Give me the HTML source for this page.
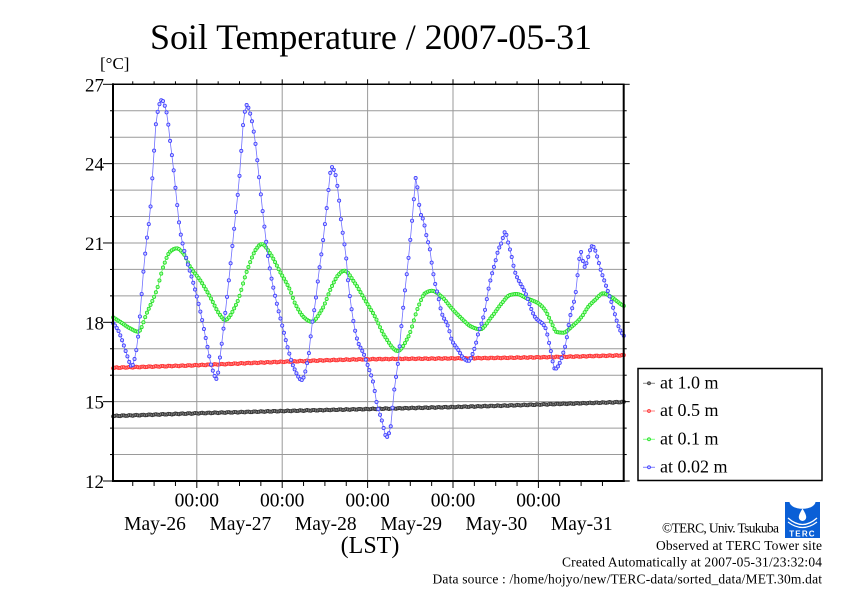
<!DOCTYPE html>
<html><head><meta charset="utf-8"><style>
html,body{margin:0;padding:0;background:#fff;}
svg{display:block;}
text{font-family:"Liberation Serif",serif;fill:#000;}
</style></head><body>
<svg id="s" width="842" height="595" viewBox="0 0 842 595" xmlns="http://www.w3.org/2000/svg">
<rect width="842" height="595" fill="#fff"/>
<g id="grid"></g>
<g id="series"></g>
<g id="axes"></g>

<text x="150" y="49" font-size="36" textLength="442">Soil Temperature / 2007-05-31</text>
<text x="100" y="69" font-size="17">[°C]</text>

<g font-size="19" text-anchor="end">
<text x="104" y="91.3">27</text>
<text x="104" y="170.7">24</text>
<text x="104" y="250">21</text>
<text x="104" y="329.4">18</text>
<text x="104" y="408.7">15</text>
<text x="104" y="488">12</text>
</g>

<g font-size="19.5" text-anchor="middle">
<text x="196.8" y="506.5">00:00</text>
<text x="282.2" y="506.5">00:00</text>
<text x="367.6" y="506.5">00:00</text>
<text x="453" y="506.5">00:00</text>
<text x="538.4" y="506.5">00:00</text>
<text x="155" y="530">May-26</text>
<text x="240.4" y="530">May-27</text>
<text x="325.8" y="530">May-28</text>
<text x="411.2" y="530">May-29</text>
<text x="496.4" y="530">May-30</text>
<text x="581.8" y="530">May-31</text>
</g>
<text x="370" y="553" font-size="24" text-anchor="middle">(LST)</text>

<!-- legend -->
<rect x="638" y="368.5" width="184" height="112" fill="#fff" stroke="#000" stroke-width="1.5"/>
<g stroke-width="1">
<line x1="643" y1="383.3" x2="655" y2="383.3" stroke="#888"/><circle cx="649" cy="383.3" r="1.5" fill="#888" stroke="#333" stroke-width="0.8"/>
<line x1="643" y1="411" x2="655" y2="411" stroke="#ff8080"/><circle cx="649" cy="411" r="1.5" fill="#ff9090" stroke="#ff3030" stroke-width="0.8"/>
<line x1="643" y1="439.3" x2="655" y2="439.3" stroke="#80ff80"/><circle cx="649" cy="439.3" r="1.5" fill="#aaffaa" stroke="#22dd22" stroke-width="0.8"/>
<line x1="643" y1="467.3" x2="655" y2="467.3" stroke="#8080ff"/><circle cx="649" cy="467.3" r="1.5" fill="#ccccff" stroke="#3c3cff" stroke-width="0.8"/>
</g>
<g font-size="18">
<text x="660" y="388.3">at 1.0 m</text>
<text x="660" y="416">at 0.5 m</text>
<text x="660" y="444.3">at 0.1 m</text>
<text x="660" y="472.3">at 0.02 m</text>
</g>

<!-- logo -->
<rect x="785" y="502" width="35" height="36" fill="#0a5fd6"/>
<path d="M789.5,502 C791,511 814,511 815.5,502 Z" fill="#fff"/>
<path d="M802.5,508.5 C799.5,513.5 798.8,515.5 798.8,517.3 A3.7,3.7 0 0 0 806.2,517.3 C806.2,515.5 805.5,513.5 802.5,508.5 Z" fill="#fff"/>
<path d="M788,518 Q802.5,531 817,518" stroke="#fff" fill="none" stroke-width="1.3"/>
<path d="M788,522 Q802.5,533 817,522" stroke="#fff" fill="none" stroke-width="1.1"/>
<text x="802.5" y="536.5" font-size="8" font-weight="bold" fill="#fff" style="fill:#fff;font-family:'Liberation Sans',sans-serif" text-anchor="middle" letter-spacing="1.2">TERC</text>

<g font-size="13.5">
<text x="662" y="532.5" textLength="117">©TERC, Univ. Tsukuba</text>
<text x="656" y="550" textLength="166">Observed at TERC Tower site</text>
<text x="562" y="566.7" textLength="260">Created Automatically at 2007-05-31/23:32:04</text>
<text x="432.5" y="583.3" textLength="389.5">Data source : /home/hojyo/new/TERC-data/sorted_data/MET.30m.dat</text>
</g>
</svg>
<script>
(function(){
var NS="http://www.w3.org/2000/svg";
function el(parent,name,attrs){var e=document.createElementNS(NS,name);for(var k in attrs)e.setAttribute(k,attrs[k]);parent.appendChild(e);return e;}
var L=113, R=623.7, T=84.3, B=481;
var X0=111.4, DAY=85.4;
function yT(t){return T+(27-t)*(B-T)/15;}
var grid=document.getElementById('grid'), axes=document.getElementById('axes'), ser=document.getElementById('series');
// grid
for(var t=13;t<=26;t++){var y=yT(t);el(grid,'line',{x1:L,y1:y,x2:R,y2:y,stroke:'#9a9a9a','stroke-width':1});}
for(var d=1;d<=5;d++){var x=X0+DAY*d;el(grid,'line',{x1:x,y1:T,x2:x,y2:B,stroke:'#9a9a9a','stroke-width':1});}
// frame
el(axes,'line',{x1:L,y1:T,x2:R,y2:T,stroke:'#000','stroke-width':1.5});
el(axes,'line',{x1:L,y1:B,x2:R+1,y2:B,stroke:'#000','stroke-width':2});
el(axes,'line',{x1:L,y1:T-1,x2:L,y2:B+1,stroke:'#000','stroke-width':2});
el(axes,'line',{x1:R,y1:T-0.7,x2:R,y2:B+1,stroke:'#000','stroke-width':2});
// y ticks
for(var t=12;t<=27;t++){var y=yT(t);var maj=(t%3==0);
 el(axes,'line',{x1:maj?103:110,y1:y,x2:L,y2:y,stroke:'#000','stroke-width':1});
 el(axes,'line',{x1:R,y1:y,x2:maj?R+6:R+3,y2:y,stroke:'#000','stroke-width':1});}
// x ticks
for(var k=1;k<=23;k++){var x=X0+DAY/4*k;var maj=(k%4==0);
 el(axes,'line',{x1:x,y1:B,x2:x,y2:B+(maj?7:5),stroke:'#000','stroke-width':1});
 el(axes,'line',{x1:x,y1:T,x2:x,y2:T-(maj?5:3),stroke:'#000','stroke-width':1});}
function mono(P){var n=P.length,xs=P.map(function(p){return p[0]}),ys=P.map(function(p){return p[1]});var dd=[],m=[];
 for(var i=0;i<n-1;i++)dd.push((ys[i+1]-ys[i])/(xs[i+1]-xs[i]));
 m[0]=dd[0];m[n-1]=dd[n-2];
 for(var i=1;i<n-1;i++){if(dd[i-1]*dd[i]<=0)m[i]=0;else{var h1=xs[i]-xs[i-1],h2=xs[i+1]-xs[i];var w1=2*h2+h1,w2=h2+2*h1;m[i]=(w1+w2)/(w1/dd[i-1]+w2/dd[i]);}}
 return function(x){if(x<=xs[0])return ys[0];if(x>=xs[n-1])return ys[n-1];var i=0;while(xs[i+1]<x)i++;var h=xs[i+1]-xs[i],t=(x-xs[i])/h,t2=t*t,t3=t2*t;
 return (2*t3-3*t2+1)*ys[i]+(t3-2*t2+t)*h*m[i]+(-2*t3+3*t2)*ys[i+1]+(t3-t2)*h*m[i+1];};}
var blue=[[113,323],[118,330],[122,340],[126,352],[131.7,366],[136.7,348],[140,315],[143.3,273],[146.7,240],[150,213],[153.3,163],[156.7,117],[161.7,100],[166.7,113],[170,140],[173.3,167],[176.7,200],[180,230],[186.7,260],[193.3,283],[200,310],[206.7,343],[211.7,367],[216.7,379],[220,357],[226.7,300],[233.3,237],[240,170],[243.3,123],[246.7,105],[250,113],[255,140],[258.3,170],[263.3,217],[270,270],[276.7,303],[283.3,330],[288.3,350],[294,368],[301.7,380],[308.3,357],[311.7,327],[315.7,300],[318.3,277],[322.3,247],[326.7,208],[331.7,167],[335,173],[338.3,193],[341,220],[343.3,237],[345.7,253],[348.3,283],[351.7,310],[355,330],[358.3,343],[363.3,353],[368.3,367],[373.3,383],[376.7,403],[381.7,420],[386.7,437],[391,425],[393.3,398],[398.3,360],[401.7,323],[405,290],[408.3,260],[410,243],[413.3,207],[415.7,178],[418.3,195],[420,212],[423.3,220],[426.7,237],[430,250],[431.7,263],[435,283],[438.3,297],[441.7,313],[448.3,327],[451.7,340],[458.3,350],[463.3,358],[468.3,361],[475,347],[478.3,333],[481.7,323],[485,310],[488.3,290],[491.7,275],[495,263],[498.3,250],[501.7,242],[505,232],[508.3,243],[511.7,257],[515,272],[525,292],[535,317],[545,327],[550,347],[555,369],[565,347],[570,317],[575,297],[581,252],[584.3,267],[592.3,246],[601.7,273],[611.7,303],[620,330],[624,336]];
var green=[[113,317.3],[120,321.7],[130,328.3],[138.3,331.7],[146.7,313.3],[156.7,290],[163.3,266.7],[170,251.7],[176.7,248.3],[183.3,253.3],[190,266.7],[200,280],[210,296.7],[220,315],[225,320],[236.7,303.3],[246.7,271.7],[256.7,248.3],[261.7,244],[270,253.3],[280,271.7],[290,290],[295,303.3],[305,318.3],[311.7,321.7],[321.7,310],[331.7,286.7],[338.3,275],[344.3,270.7],[355,283.3],[365,300],[375,316.7],[385,336.7],[397.7,351],[408.3,336.7],[418.3,306.7],[425,293.3],[431.7,290.7],[441.7,296.7],[451.7,308.3],[465,321.7],[470,326],[480,329.3],[491.7,316.7],[501.7,303.3],[510,295],[516.7,294],[526.7,298.3],[538.3,303.3],[545,310],[551.7,323.3],[556.7,332],[563.3,332.7],[571.7,326.7],[581.7,316.7],[588.3,306.7],[595,300],[603.3,293.3],[611.7,297.3],[620.7,304],[624,306]];
var red=[[113,367.8],[197,365.2],[285,361.7],[365,359.3],[465,358.3],[540,357.3],[624,355.3]];
var black=[[113,416],[197,413.3],[285,411],[465,406.7],[624,402]];
function draw(P,stroke,fill,line,jit){var f=mono(P);var pts=[],xy=[];
 for(var i=1;i<=288;i++){var x=X0+i*DAY/48;var y=f(x)+(jit?(Math.sin(i*1.7)*jit):0);xy.push([x,y]);pts.push(x.toFixed(2)+','+y.toFixed(2));}
 el(ser,'polyline',{points:pts.join(' '),fill:'none',stroke:line,'stroke-width':0.8});
 for(var i=0;i<xy.length;i++)el(ser,'circle',{cx:xy[i][0].toFixed(2),cy:xy[i][1].toFixed(2),r:1.6,fill:fill,stroke:stroke,'stroke-width':0.8});}
draw(black,'#333','#888','#777',0.4);
draw(red,'#ff3030','#ff9090','#ff8080',0.4);
draw(green,'#22dd22','#aaffaa','#66ee66',0);
draw(blue,'#3c3cff','#ccccff','#7070ff',0);
})();
</script>
</body></html>
